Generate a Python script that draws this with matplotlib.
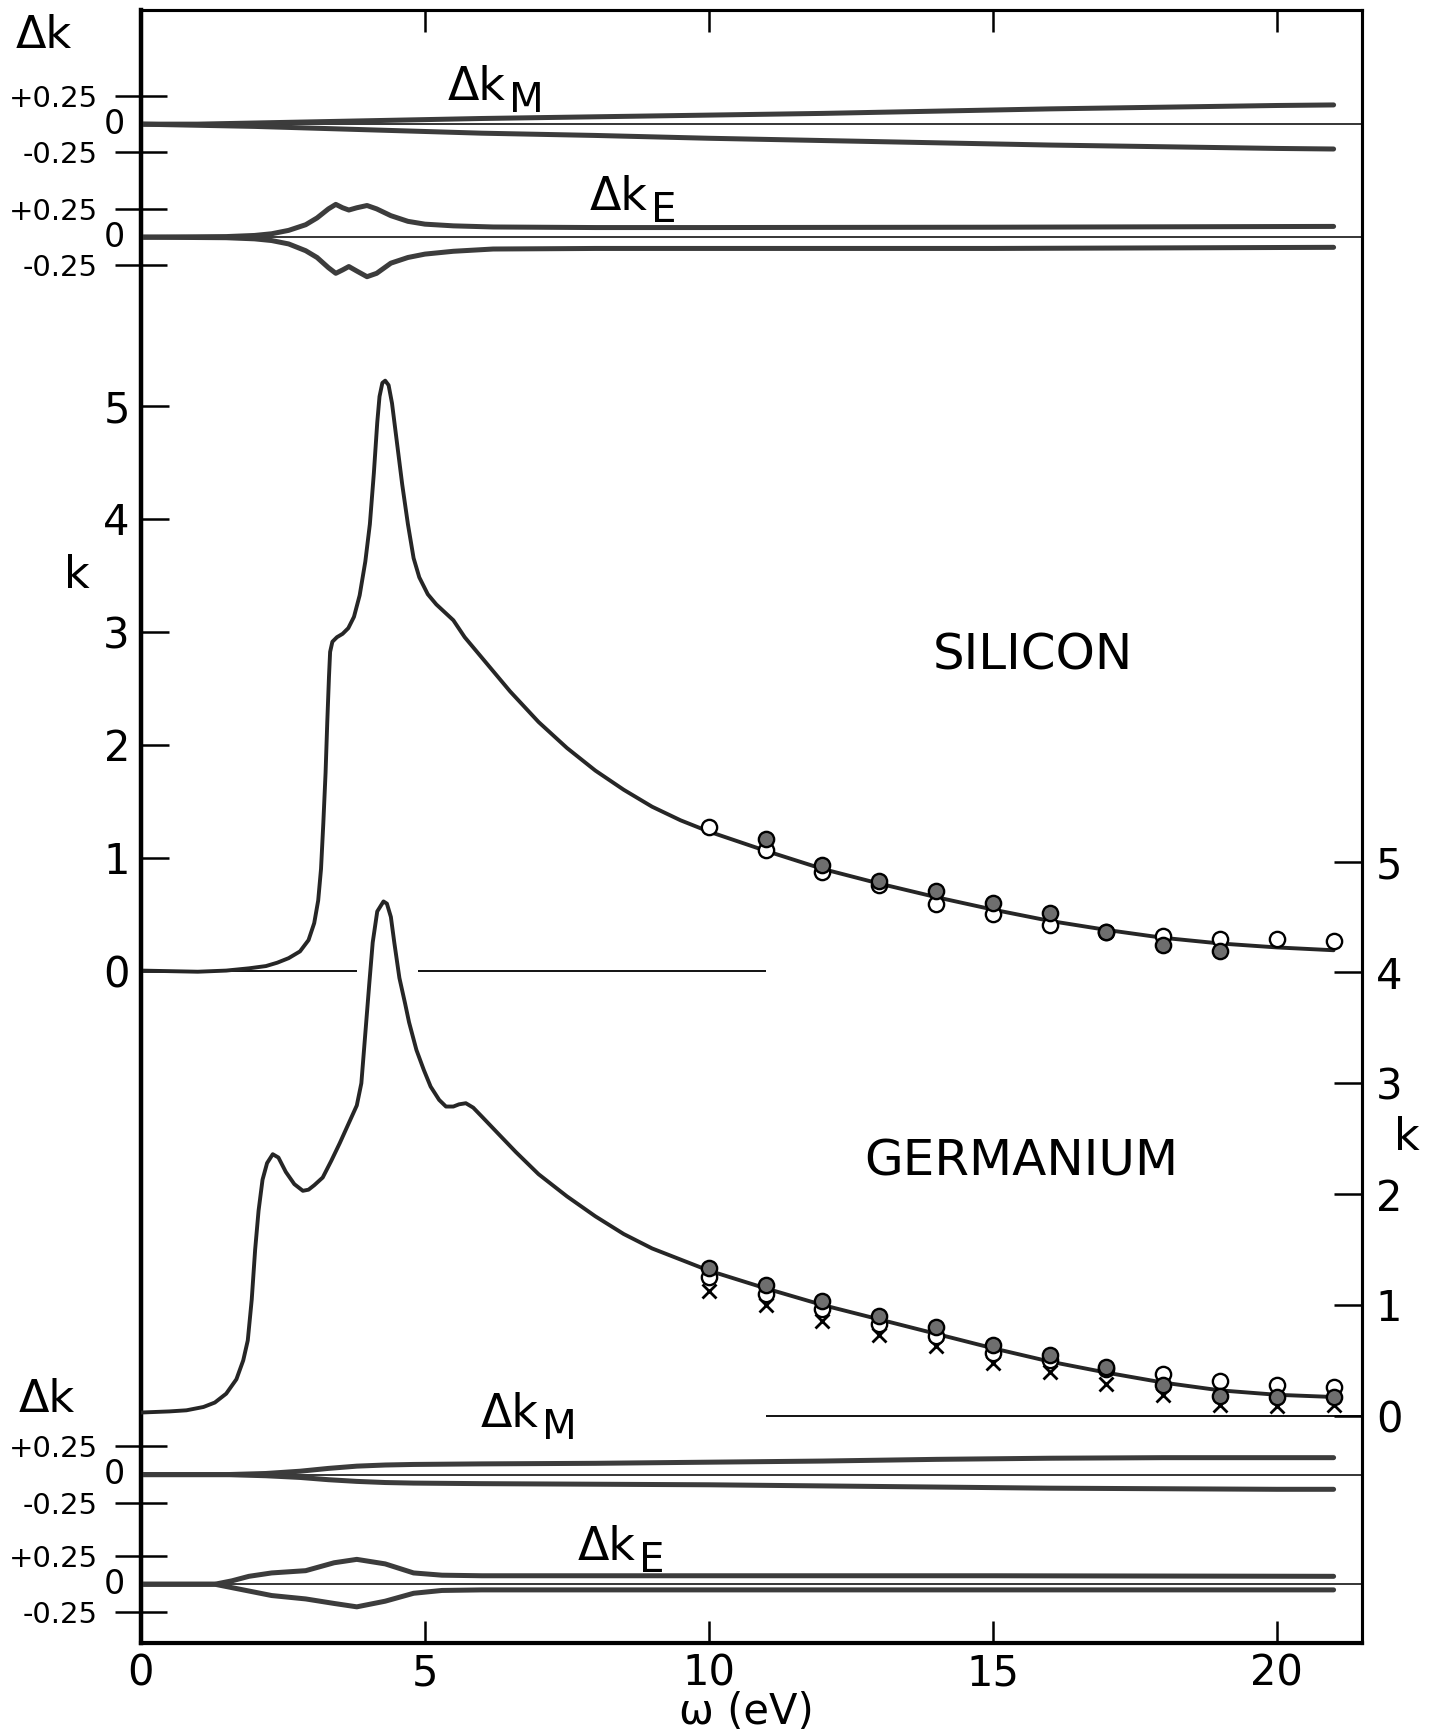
import numpy as np
import matplotlib
matplotlib.use("Agg")
import matplotlib.pyplot as plt

plt.rcParams['font.family'] = ['DejaVu Sans']

# ---------------- data ----------------
# Silicon k(omega)
si_w = [0.0, 0.5, 1.0, 1.5, 1.9, 2.2, 2.4, 2.6, 2.8, 2.95, 3.05, 3.12, 3.17, 3.21, 3.25,
        3.28, 3.31, 3.33, 3.37, 3.45, 3.55, 3.65, 3.75, 3.85, 3.95, 4.03, 4.1, 4.16, 4.2,
        4.25, 4.3, 4.36, 4.42, 4.5, 4.6, 4.7, 4.8, 4.9, 5.05, 5.2, 5.35, 5.5, 5.7, 6.0,
        6.5, 7.0, 7.5, 8.0, 8.5, 9.0, 9.5, 10.0, 11.0, 12.0, 13.0, 14.0, 15.0, 16.0, 17.0,
        18.0, 19.0, 20.0, 21.0]
si_k = [0.0, -0.005, -0.01, 0.0, 0.02, 0.04, 0.07, 0.11, 0.17, 0.27, 0.42, 0.62, 0.9, 1.3,
        1.75, 2.2, 2.6, 2.82, 2.91, 2.95, 2.98, 3.03, 3.13, 3.32, 3.62, 3.95, 4.4, 4.85,
        5.08, 5.2, 5.22, 5.18, 5.02, 4.7, 4.3, 3.95, 3.65, 3.48, 3.33, 3.24, 3.17, 3.1,
        2.95, 2.77, 2.47, 2.2, 1.97, 1.77, 1.6, 1.45, 1.33, 1.23, 1.06, 0.9, 0.77, 0.65,
        0.54, 0.44, 0.36, 0.29, 0.24, 0.205, 0.18]

# Germanium k(omega)
ge_w = [0.0, 0.5, 0.8, 1.1, 1.3, 1.5, 1.68, 1.8, 1.88, 1.95, 2.01, 2.07, 2.14, 2.22, 2.32,
        2.42, 2.55, 2.7, 2.85, 2.95, 3.05, 3.2, 3.35, 3.5, 3.65, 3.8, 3.88, 3.95, 4.02,
        4.08, 4.16, 4.27, 4.33, 4.4, 4.46, 4.55, 4.65, 4.72, 4.85, 4.98, 5.1, 5.25, 5.37,
        5.5, 5.6, 5.72, 5.85, 6.02, 6.3, 6.6, 7.0, 7.5, 8.0, 8.5, 9.0, 9.5, 10.0, 11.0,
        12.0, 13.0, 14.0, 15.0, 16.0, 17.0, 18.0, 19.0, 20.0, 21.0]
ge_k = [0.03, 0.04, 0.05, 0.08, 0.12, 0.2, 0.33, 0.5, 0.68, 1.05, 1.5, 1.85, 2.13, 2.28,
        2.36, 2.33, 2.2, 2.09, 2.03, 2.04, 2.08, 2.15, 2.3, 2.46, 2.63, 2.8, 3.0, 3.45,
        3.9, 4.27, 4.55, 4.64, 4.62, 4.5, 4.27, 3.95, 3.72, 3.55, 3.3, 3.12, 2.97, 2.85,
        2.79, 2.79, 2.81, 2.82, 2.78, 2.69, 2.54, 2.38, 2.18, 1.98, 1.8, 1.64, 1.51, 1.41,
        1.31, 1.15, 1.0, 0.87, 0.74, 0.61, 0.49, 0.39, 0.3, 0.23, 0.19, 0.17]

# experimental points
pts_w = [10, 11, 12, 13, 14, 15, 16, 17, 18, 19, 20, 21]
si_open = [1.27, 1.07, 0.87, 0.76, 0.59, 0.50, 0.40, 0.34, 0.31, 0.28, 0.28, 0.26]
si_filled = [np.nan, 1.16, 0.93, 0.79, 0.70, 0.60, 0.51, 0.34, 0.23, 0.17, np.nan, np.nan]
ge_open = [1.25, 1.10, 0.96, 0.83, 0.72, 0.57, 0.50, 0.42, 0.38, 0.31, 0.28, 0.26]
ge_filled = [1.33, 1.18, 1.04, 0.90, 0.80, 0.64, 0.55, 0.44, 0.28, 0.18, 0.17, 0.17]
ge_cross = [1.13, 1.00, 0.86, 0.73, 0.63, 0.48, 0.40, 0.29, 0.19, 0.10, 0.09, 0.10]

# Delta k bands, silicon
si_dkm_w = [0, 1, 2, 3, 4, 5, 6, 8, 10, 12, 14, 16, 18, 20, 21]
si_dkm_up = [0.0, 0.0, 0.01, 0.02, 0.03, 0.04, 0.05, 0.065, 0.08, 0.095, 0.115, 0.135, 0.15, 0.165, 0.17]
si_dkm_lo = [0.0, -0.01, -0.02, -0.035, -0.05, -0.065, -0.08, -0.1, -0.125, -0.145, -0.165, -0.185, -0.2, -0.215, -0.22]

si_dke_w = [0, 1.5, 2.0, 2.3, 2.6, 2.9, 3.1, 3.3, 3.43, 3.55, 3.66, 3.8, 3.98, 4.15, 4.4, 4.7,
            5.0, 5.5, 6.2, 8, 10, 15, 21]
si_dke_up = [0, 0.005, 0.015, 0.03, 0.06, 0.11, 0.17, 0.25, 0.29, 0.26, 0.24, 0.26, 0.28, 0.25,
             0.19, 0.14, 0.115, 0.1, 0.09, 0.085, 0.085, 0.088, 0.095]
si_dke_lo = [0, -0.005, -0.015, -0.03, -0.06, -0.12, -0.18, -0.27, -0.32, -0.29, -0.26, -0.3,
             -0.35, -0.32, -0.23, -0.18, -0.15, -0.125, -0.105, -0.1, -0.1, -0.1, -0.09]

# Delta k bands, germanium
ge_dkm_w = [0, 1.5, 2.2, 2.8, 3.3, 3.8, 4.3, 4.8, 6, 8, 10, 12, 14, 16, 18, 20, 21]
ge_dkm_up = [0, 0.0, 0.01, 0.03, 0.055, 0.075, 0.085, 0.09, 0.095, 0.1, 0.11, 0.12, 0.135, 0.145, 0.15, 0.15, 0.15]
ge_dkm_lo = [0, 0.0, -0.01, -0.025, -0.045, -0.06, -0.07, -0.075, -0.08, -0.085, -0.09, -0.1, -0.11, -0.12, -0.125, -0.13, -0.13]

ge_dke_w = [0, 1.3, 1.6, 1.9, 2.3, 2.9, 3.4, 3.8, 4.3, 4.8, 5.3, 6, 10, 15, 21]
ge_dke_up = [0, 0, 0.03, 0.07, 0.1, 0.12, 0.19, 0.22, 0.18, 0.1, 0.08, 0.075, 0.075, 0.075, 0.07]
ge_dke_lo = [0, 0, -0.03, -0.06, -0.1, -0.13, -0.17, -0.2, -0.15, -0.08, -0.055, -0.05, -0.05, -0.05, -0.05]

k_ticks = [0, 1, 2, 3, 4, 5]
x_ticks = [0, 5, 10, 15, 20]

# ---------------- layout constants ----------------
W, H = 1439, 1734
SI_M0, SI_E0 = 7.49, 6.49      # zero levels of the silicon delta-k bands
GE_M0, GE_E0 = -4.46, -5.43    # zero levels of the germanium delta-k bands
GE_OFF, GE_SCALE = -3.94, 0.981
YLO, YHI = -5.95, 8.50
XLO, XHI = 0.0, 21.5

fig = plt.figure(figsize=(W / 100, H / 100), dpi=100)
fig.patch.set_facecolor('white')
ax = fig.add_axes([141 / W, 1 - 1643 / H, (1362 - 141) / W, (1643 - 10) / H])
ax.set_xlim(XLO, XHI)
ax.set_ylim(YLO, YHI)

ax2 = ax.twinx()
ax2.set_ylim((YLO - GE_OFF) / GE_SCALE, (YHI - GE_OFF) / GE_SCALE)

curve_c = '#262626'
band_c = '#3c3c3c'

# main curves
ax.plot(si_w, si_k, color=curve_c, lw=2.8, zorder=3, solid_capstyle='round',
        solid_joinstyle='round')
ax2.plot(ge_w, ge_k, color=curve_c, lw=2.8, zorder=3, solid_capstyle='round',
         solid_joinstyle='round')

# baselines
ax.hlines(0, 0, 3.8, color='black', lw=1.3, zorder=2)
ax.hlines(0, 4.87, 11.0, color='black', lw=1.3, zorder=2)
ax2.hlines(0, 11.0, XHI, color='black', lw=1.3, zorder=2)

# delta k bands
for zero, w, up, lo in [(SI_M0, si_dkm_w, si_dkm_up, si_dkm_lo),
                        (SI_E0, si_dke_w, si_dke_up, si_dke_lo),
                        (GE_M0, ge_dkm_w, ge_dkm_up, ge_dkm_lo),
                        (GE_E0, ge_dke_w, ge_dke_up, ge_dke_lo)]:
    ax.hlines(zero, XLO, XHI, color='black', lw=1.1, zorder=2)
    ax.plot(w, zero + np.array(up), color=band_c, lw=3.6, zorder=3, solid_capstyle='round',
            solid_joinstyle='round')
    ax.plot(w, zero + np.array(lo), color=band_c, lw=3.6, zorder=3, solid_capstyle='round',
            solid_joinstyle='round')
    ax.text(-0.013, zero, '0', transform=ax.get_yaxis_transform(), ha='right', va='center',
            fontsize=24)

# experimental markers
ax.plot(pts_w, si_open, 'o', ms=11, mfc='white', mec='black', mew=1.7, zorder=5)
ax.plot(pts_w, si_filled, 'o', ms=11, mfc='#6e6e6e', mec='black', mew=1.7, zorder=6)
ax2.plot(pts_w, ge_cross, 'x', ms=10, mec='black', mew=2.0, zorder=4)
ax2.plot(pts_w, ge_open, 'o', ms=11, mfc='white', mec='black', mew=1.7, zorder=5)
ax2.plot(pts_w, ge_filled, 'o', ms=11, mfc='#6e6e6e', mec='black', mew=1.7, zorder=6)

# ticks
ax.set_xticks(x_ticks)
ax.set_xticklabels([str(t) for t in x_ticks], fontsize=30)
ax.tick_params(axis='x', direction='in', length=16, width=1.8, top=True, bottom=True, pad=7)

ax.set_yticks(k_ticks)
ax.set_yticklabels([str(t) for t in k_ticks], fontsize=30)
ax.tick_params(axis='y', which='major', direction='in', length=20, width=1.8, left=True,
               right=False, pad=8)

minor_pos = [SI_M0 + 0.25, SI_M0 - 0.25, SI_E0 + 0.25, SI_E0 - 0.25,
             GE_M0 + 0.25, GE_M0 - 0.25, GE_E0 + 0.25, GE_E0 - 0.25]
minor_lab = ['+0.25', '-0.25'] * 4
ax.set_yticks(minor_pos, minor=True)
ax.set_yticklabels(minor_lab, minor=True, fontsize=21)
ax.tick_params(axis='y', which='minor', direction='inout', length=38, width=1.8, left=True,
               right=False, pad=12)
ax.tick_params(axis='x', which='minor', bottom=False, top=False)

ax2.set_yticks(k_ticks)
ax2.set_yticklabels([str(t) for t in k_ticks], fontsize=30)
ax2.tick_params(axis='y', direction='in', length=20, width=1.8, left=False, right=True, pad=10)

for a in (ax, ax2):
    for s in a.spines.values():
        s.set_linewidth(2.2)
        s.set_color('black')
ax.spines['left'].set_linewidth(3.2)
ax.spines['bottom'].set_linewidth(3.0)

# texts
fig.text(746 / W, 1 - 1712 / H, 'ω (eV)', fontsize=30, ha='center', va='center')
fig.text(77 / W, 1 - 575 / H, 'k', fontsize=32, ha='center', va='center')
fig.text(1407 / W, 1 - 1137 / H, 'k', fontsize=32, ha='center', va='center')
fig.text(44 / W, 1 - 36 / H, 'Δk', fontsize=32, ha='center', va='center')
fig.text(47 / W, 1 - 1399 / H, 'Δk', fontsize=32, ha='center', va='center')
fig.text(1033 / W, 1 - 656 / H, 'SILICON', fontsize=36, ha='center', va='center')
fig.text(1021 / W, 1 - 1161 / H, 'GERMANIUM', fontsize=36, ha='center', va='center')

renderer = fig.canvas.get_renderer()


def dk_label(x_px, base_px, sub):
    t = fig.text(x_px / W, 1 - base_px / H, 'Δk', fontsize=33, ha='left', va='baseline')
    bb = t.get_window_extent(renderer)
    fig.text((bb.x1 + 3) / W, 1 - (base_px + 12) / H, sub, fontsize=29, ha='left',
             va='baseline')


dk_label(448, 100, 'M')
dk_label(590, 210, 'E')
dk_label(481, 1427, 'M')
dk_label(578, 1560, 'E')

fig.savefig('out.png', dpi=100, facecolor='white')
